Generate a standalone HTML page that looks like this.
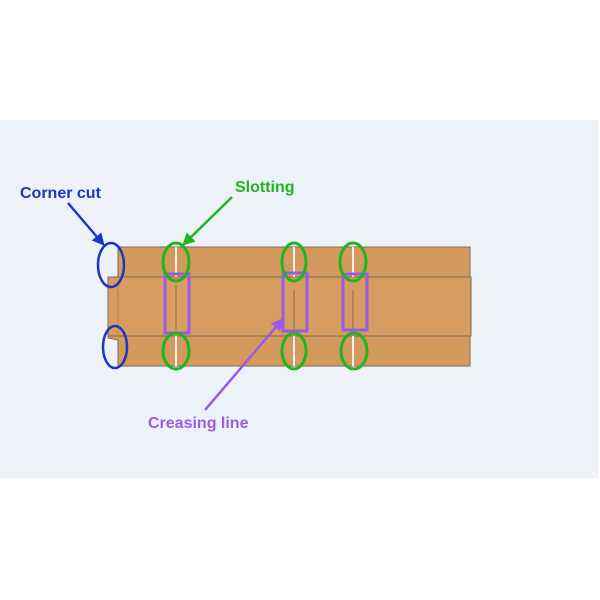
<!DOCTYPE html>
<html><head><style>body{margin:0;background:#fff;}</style></head><body>
<svg width="600" height="600" xmlns="http://www.w3.org/2000/svg" style="display:block">
<defs>
<marker id="ab" markerWidth="5" markerHeight="5" refX="4" refY="2.5" orient="auto"><path d="M0,0 L5,2.5 L0,5 z" fill="#1c36c4"/></marker>
<marker id="ag" markerWidth="5" markerHeight="5" refX="4" refY="2.5" orient="auto"><path d="M0,0 L5,2.5 L0,5 z" fill="#1fb51f"/></marker>
<marker id="ap" markerWidth="5" markerHeight="5" refX="4" refY="2.5" orient="auto"><path d="M0,0 L5,2.5 L0,5 z" fill="#9a5ce6"/></marker>
</defs>
<rect x="0" y="120" width="598" height="358" fill="#edf2f8"/>
<polygon points="118,247 470,247 470,277 108,277 108,285 118,281" fill="#d49a5d" stroke="#7a6a5a" stroke-width="1"/>
<rect x="108" y="277" width="363" height="59" fill="#d79d60" stroke="#7a6a5a" stroke-width="1"/>
<polygon points="108,336 470,336 470,366 118,366 118,340 108,338" fill="#d49a5d" stroke="#7a6a5a" stroke-width="1"/>
<line x1="118" y1="281" x2="118" y2="336" stroke="#b88450" stroke-width="1"/>
<g stroke="#f4efe8" stroke-width="2">
<line x1="176" y1="247" x2="176" y2="277"/><line x1="176" y1="336" x2="176" y2="366"/>
<line x1="294" y1="247" x2="294" y2="277"/><line x1="294" y1="336" x2="294" y2="366"/>
<line x1="353" y1="247" x2="353" y2="277"/><line x1="353" y1="336" x2="353" y2="366"/>
</g>
<g stroke="#8a6a4a" stroke-width="1">
<line x1="176" y1="285" x2="176" y2="330"/><line x1="294" y1="290" x2="294" y2="330"/><line x1="353" y1="290" x2="353" y2="330"/>
</g>
<g fill="none" stroke="#9a5ce6" stroke-width="3">
<rect x="165" y="274" width="24" height="59"/>
<rect x="283" y="273" width="24" height="58"/>
<rect x="343" y="274" width="24" height="56"/>
</g>
<g fill="none" stroke="#1fb51f" stroke-width="3">
<ellipse cx="176" cy="262" rx="13" ry="19"/><ellipse cx="176" cy="351" rx="13" ry="18"/>
<ellipse cx="294" cy="262" rx="12" ry="19"/><ellipse cx="294" cy="351" rx="12" ry="18"/>
<ellipse cx="353" cy="262" rx="13" ry="19"/><ellipse cx="354" cy="351" rx="13" ry="18"/>
</g>
<g fill="none" stroke="#1c36c4" stroke-width="2.5">
<ellipse cx="111" cy="265" rx="13" ry="22"/><ellipse cx="115" cy="347" rx="12" ry="21"/>
</g>
<line x1="68" y1="203" x2="103" y2="244" stroke="#1c36c4" stroke-width="2.5" marker-end="url(#ab)"/>
<line x1="232" y1="197" x2="184" y2="244" stroke="#1fb51f" stroke-width="2.5" marker-end="url(#ag)"/>
<line x1="205" y1="410" x2="282" y2="320" stroke="#9a5ce6" stroke-width="2.5" marker-end="url(#ap)"/>
<g font-family="Liberation Sans, sans-serif" font-weight="bold" font-size="16">
<text x="20" y="198" fill="#1c36c4">Corner cut</text>
<text x="235" y="192" fill="#1fb51f">Slotting</text>
<text x="148" y="428" fill="#9a5ce6">Creasing line</text>
</g>
</svg>
</body></html>
